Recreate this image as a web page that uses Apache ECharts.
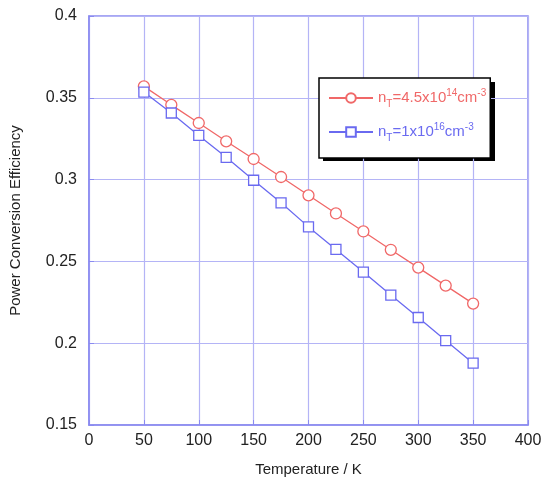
<!DOCTYPE html>
<html>
<head>
<meta charset="utf-8">
<script src="https://cdn.jsdelivr.net/npm/echarts@6/dist/echarts.min.js"></script>
<style>
  html, body { margin: 0; padding: 0; background: #fff; }
  #chart { width: 550px; height: 495px; }
</style>
</head>
<body>
<div id="chart"></div>
<script>
// temperature (K) and efficiency values
const temperature = [50, 75, 100, 125, 150, 175, 200, 225, 250, 275, 300, 325, 350];
const effLowTrap = [0.357, 0.3457, 0.3346, 0.3234, 0.3126, 0.3016, 0.2904, 0.2793, 0.2683, 0.2571, 0.2462, 0.2352, 0.2242];
const effHighTrap = [0.3535, 0.3407, 0.327, 0.3136, 0.2996, 0.2858, 0.2711, 0.2573, 0.2435, 0.2294, 0.2157, 0.2016, 0.1878];
const seriesNames = ["nT=4.5x10^14cm^-3", "nT=1x10^16cm^-3"];

const red = "#f06868";
const blue = "#6a6af0";
const gridCol = "#b4b4f6";
const frameCol = "#8a8af0";
const font = "Liberation Sans, Arial, Helvetica, sans-serif";

const chart = echarts.init(document.getElementById("chart"));

const pair = (xs, ys) => xs.map((x, i) => [x, ys[i]]);

// legend label with subscript / superscripts
const legendLabel = (name) => {
  if (name === seriesNames[0]) {
    return "{b|n}{sub|T}{b|=4.5x10}{sup|14}{b|cm}{sup|-3}";
  }
  return "{b|n}{sub|T}{b|=1x10}{sup|16}{b|cm}{sup|-3}";
};

// legend box position (px)
const legBox = { x: 319, y: 78, w: 172, h: 79 };

const option = {
  animation: false,
  backgroundColor: "#fff",
  grid: { left: 86, right: 22, top: 16, bottom: 70, show: true, borderColor: frameCol, borderWidth: 1.5 },
  // black drop shadow behind the legend
  graphic: [{
    type: "rect",
    z: 0,
    shape: { x: legBox.x + 4, y: legBox.y + 4, width: legBox.w, height: legBox.h },
    style: { fill: "#000" }
  }],
  xAxis: {
    type: "value",
    min: 0, max: 400, interval: 50,
    name: "Temperature / K",
    nameLocation: "middle",
    nameGap: 37,
    nameTextStyle: { fontSize: 15, color: "#222", fontFamily: font },
    axisLine: { show: true, lineStyle: { color: frameCol, width: 1.5 } },
    axisTick: { show: true, inside: true, length: 5, lineStyle: { color: frameCol } },
    axisLabel: { fontSize: 16, color: "#222", fontFamily: font, margin: 8 },
    splitLine: { show: true, lineStyle: { color: gridCol, width: 1.2 } }
  },
  yAxis: {
    type: "value",
    min: 0.15, max: 0.4, interval: 0.05,
    name: "Power Conversion Efficiency",
    nameLocation: "middle",
    nameGap: 66,
    nameTextStyle: { fontSize: 15, color: "#222", fontFamily: font },
    axisLine: { show: true, lineStyle: { color: frameCol, width: 1.5 } },
    axisTick: { show: true, inside: true, length: 5, lineStyle: { color: frameCol } },
    axisLabel: { fontSize: 16, color: "#222", fontFamily: font, margin: 12,
      formatter: (v) => String(Math.round(v * 100) / 100) },
    splitLine: { show: true, lineStyle: { color: gridCol, width: 1.2 } }
  },
  legend: {
    orient: "vertical",
    left: legBox.x, top: legBox.y,
    padding: [9, 4, 15, 9],
    itemGap: 12,
    itemWidth: 44,
    itemHeight: 12,
    z: 5,
    backgroundColor: "#fff",
    borderColor: "#000",
    borderWidth: 1.5,
    data: [
      { name: seriesNames[0], textStyle: { color: red } },
      { name: seriesNames[1], textStyle: { color: blue } }
    ],
    formatter: legendLabel,
    textStyle: {
      fontFamily: font,
      rich: {
        b: { fontSize: 15, fontFamily: font, lineHeight: 24 },
        sub: { fontSize: 10, fontFamily: font, lineHeight: 24, padding: [12, 0, 0, 0] },
        sup: { fontSize: 10, fontFamily: font, lineHeight: 24, padding: [0, 0, 10, 0] }
      }
    }
  },
  series: [
    {
      name: seriesNames[0],
      type: "line",
      data: pair(temperature, effLowTrap),
      symbol: "circle",
      symbolSize: 11,
      showAllSymbol: true,
      lineStyle: { color: red, width: 1.3 },
      itemStyle: { color: "#fff", borderColor: red, borderWidth: 1.3 }
    },
    {
      name: seriesNames[1],
      type: "line",
      data: pair(temperature, effHighTrap),
      symbol: "rect",
      symbolSize: 10,
      showAllSymbol: true,
      lineStyle: { color: blue, width: 1.3 },
      itemStyle: { color: "#fff", borderColor: blue, borderWidth: 1.3 }
    }
  ]
};

chart.setOption(option);
</script>
</body>
</html>
